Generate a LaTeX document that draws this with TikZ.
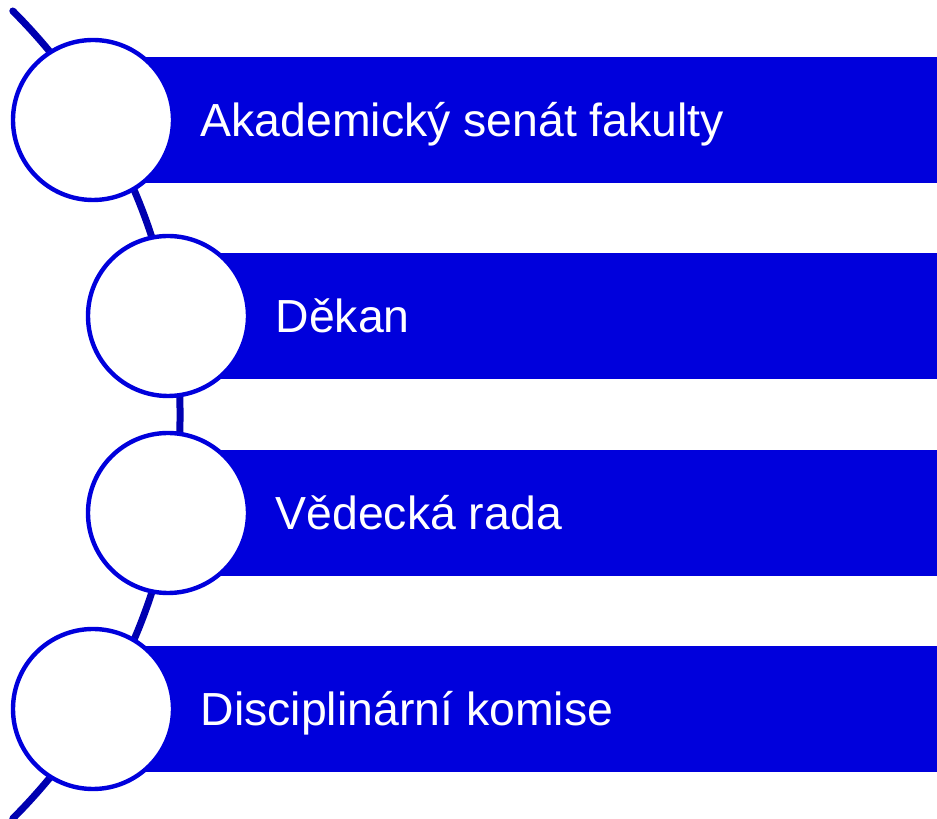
\documentclass[tikz,border=0pt]{standalone}
\usepackage{fontspec}
\setmainfont{Liberation Sans}
\usetikzlibrary{positioning}
\definecolor{barblue}{RGB}{0,0,220}
\definecolor{spineblue}{RGB}{0,0,176}

\begin{document}
\begin{tikzpicture}[x=0.5pt,y=0.5pt,
	bar/.style={fill=barblue, minimum height=63pt, inner sep=0pt},
	stage/.style={circle, draw=barblue, line width=2.2pt, fill=white, minimum size=80pt, inner sep=0pt},
	caption/.style={text=white, font=\fontsize{23.2pt}{28pt}\selectfont, inner sep=0pt, text height=16.6pt, text depth=0pt},
	spine/.style={draw=spineblue, line width=3.5pt, line cap=round}]
	
	\useasboundingbox (0,0) rectangle (937,819);
	
	\coordinate (top) at (12.8,808);
	\draw [spine] (top) arc [start angle=45, end angle=-45, radius=571] coordinate (bottom);
	
	\node (b1) [bar, minimum width=422pt] at (515,699) {};
	\node (b2) [bar, minimum width=384.5pt] at (552.5,503) {};
	\node (b3) [bar, minimum width=384.5pt] at (552.5,306) {};
	\node (b4) [bar, minimum width=422pt] at (515,110) {};
	
	\node (c1) [stage] at (93,699) {};
	\node (c2) [stage] at (168,503) {};
	\node (c3) [stage] at (168,306) {};
	\node (c4) [stage] at (93,110) {};
	
	\node (t1) [caption, right=12.5pt of c1] {Akademický senát fakulty};
	\node (t2) [caption, right=12.5pt of c2] {Děkan};
	\node (t3) [caption, right=12.5pt of c3] {Vědecká rada};
	\node (t4) [caption, right=12.5pt of c4] {Disciplinární komise};
\end{tikzpicture}
\end{document}
